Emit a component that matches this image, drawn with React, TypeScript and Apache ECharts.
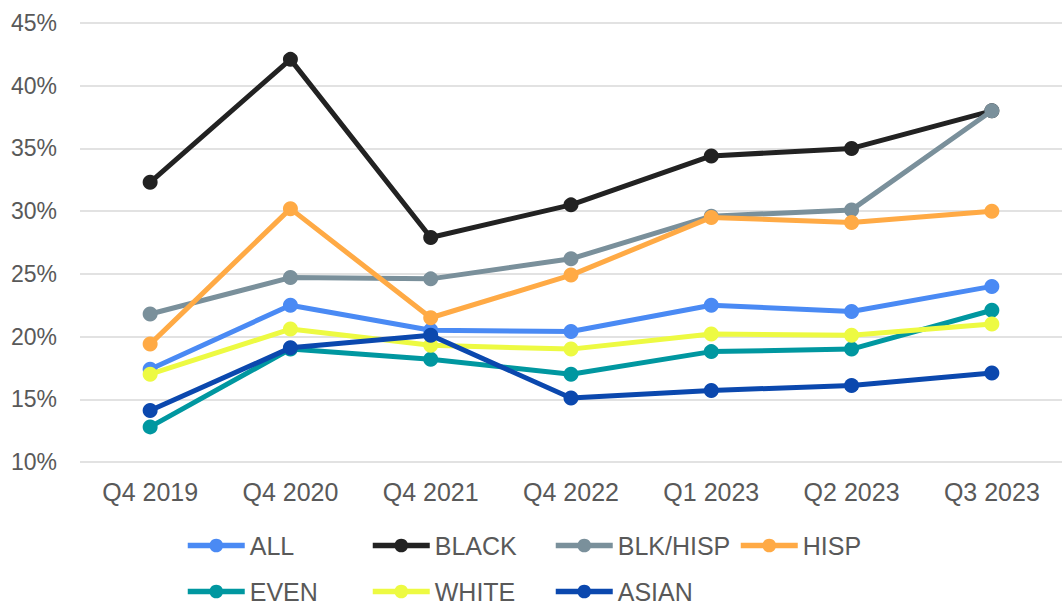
import React, { useEffect, useRef } from "react";
import * as echarts from "echarts";

const categories = ["Q4 2019", "Q4 2020", "Q4 2021", "Q4 2022", "Q1 2023", "Q2 2023", "Q3 2023"];
const seriesNames = ["ALL", "BLACK", "BLK/HISP", "HISP", "EVEN", "WHITE", "ASIAN"];
const allValues = [17.4, 22.5, 20.5, 20.4, 22.5, 22.0, 24.0];
const blackValues = [32.3, 42.1, 27.9, 30.5, 34.4, 35.0, 38.0];
const blkHispValues = [21.8, 24.7, 24.6, 26.2, 29.6, 30.1, 38.0];
const hispValues = [19.4, 30.2, 21.5, 24.9, 29.5, 29.1, 30.0];
const evenValues = [12.8, 19.0, 18.2, 17.0, 18.8, 19.0, 22.1];
const whiteValues = [17.0, 20.6, 19.3, 19.0, 20.2, 20.1, 21.0];
const asianValues = [14.1, 19.1, 20.1, 15.1, 15.7, 16.1, 17.1];
const seriesValues = [allValues, blackValues, blkHispValues, hispValues, evenValues, whiteValues, asianValues];
const colors = ["#4A8AF4", "#222222", "#7A909B", "#FFAA45", "#0097A0", "#EDFA42", "#0B48AE"];
const yMin = 10;
const yMax = 45;
const yInterval = 5;

const FONT = "'Liberation Sans', Arial, sans-serif";
const TEXT_COLOR = "#595959";

export default function App() {
  const ref = useRef<HTMLDivElement>(null);
  useEffect(() => {
    if (!ref.current) return;
    const chart = echarts.init(ref.current, undefined, { renderer: "svg" });
    const legendCols = [185, 370, 553, 738];
    const legendRows = [533, 579];
    chart.setOption({
      animation: false,
      backgroundColor: "#ffffff",
      textStyle: { fontFamily: FONT },
      grid: { left: 80, top: 23, width: 992, height: 439, containLabel: false },
      xAxis: {
        type: "category",
        data: categories,
        boundaryGap: true,
        axisLine: { show: false },
        axisTick: { show: false },
        axisLabel: { color: TEXT_COLOR, fontSize: 25, fontFamily: FONT, margin: 17, interval: 0 },
      },
      yAxis: {
        type: "value",
        min: yMin,
        max: yMax,
        interval: yInterval,
        axisLine: { show: false },
        axisTick: { show: false },
        axisLabel: { color: TEXT_COLOR, fontSize: 23, fontFamily: FONT, margin: 23, formatter: "{value}%" },
        splitLine: { lineStyle: { color: "#D9D9D9", width: 1.5 } },
      },
      legend: seriesNames.map((name, i) => ({
        data: [name],
        left: legendCols[i % 4],
        top: legendRows[Math.floor(i / 4)],
        padding: 0,
        itemWidth: 57,
        itemHeight: 17,
        selectedMode: false,
        lineStyle: { width: 5.5 },
        textStyle: { color: TEXT_COLOR, fontSize: 25, fontFamily: FONT },
      })),
      series: seriesNames.map((name, i) => ({
        name,
        type: "line",
        data: seriesValues[i],
        color: colors[i],
        symbol: "circle",
        symbolSize: 15,
        showSymbol: true,
        lineStyle: { width: 5, color: colors[i] },
        itemStyle: { color: colors[i] },
        z: 2 + i,
      })),
    });
    return () => chart.dispose();
  }, []);
  return (
    <div
      ref={ref}
      style={{ position: "absolute", left: 0, top: 0, width: 1062, height: 605 }}
    />
  );
}
